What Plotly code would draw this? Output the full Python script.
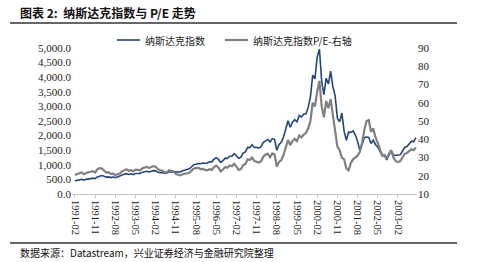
import plotly.graph_objects as go

# Monthly categories 1991-02 .. 2003-10
months = []
y, m = 1991, 2
while (y, m) <= (2003, 10):
    months.append(f"{y}-{m:02d}")
    m += 1
    if m > 12:
        y, m = y + 1, 1

nasdaq = [
    453, 482, 484, 506, 476, 502, 525, 527, 542, 523, 586,
    620, 633, 604, 579, 585, 563, 581, 563, 583, 605, 653, 677,
    696, 671, 690, 662, 704, 704, 705, 742, 763, 779, 754, 777,
    800, 793, 743, 733, 735, 706, 722, 766, 764, 777, 750, 752,
    755, 794, 817, 843, 865, 933, 1001, 1020, 1044, 1036, 1059, 1052,
    1060, 1100, 1101, 1191, 1243, 1185, 1081, 1141, 1227, 1222, 1293, 1291,
    1380, 1309, 1222, 1261, 1400, 1443, 1594, 1587, 1686, 1594, 1601, 1570,
    1619, 1771, 1835, 1869, 1779, 1895, 1873, 1499, 1694, 1771, 1950, 2193,
    2506, 2288, 2461, 2543, 2471, 2686, 2638, 2739, 2746, 2966, 3336, 4069,
    3940, 4697, 4960, 3861, 3401, 3966, 3767, 4206, 3673, 3370, 2598, 2471,
    2773, 2152, 1840, 2116, 2110, 2161, 2027, 1805, 1499, 1690, 1931, 1950,
    1934, 1731, 1845, 1688, 1616, 1463, 1328, 1315, 1172, 1330, 1479, 1336,
    1321, 1338, 1341, 1464, 1596, 1623, 1735, 1810, 1787, 1932,
]

pe = [
    20.5, 21.0, 21.5, 21.8, 20.8, 21.5, 22.0, 22.2, 22.5, 21.8, 23.5,
    24.2, 24.0, 22.8, 21.8, 22.0, 21.0, 21.2, 20.4, 20.8, 21.2, 22.4, 23.0,
    23.5, 22.6, 23.2, 22.4, 23.4, 23.2, 23.0, 24.0, 24.6, 25.0, 24.2, 24.8,
    25.3, 25.0, 23.6, 23.0, 22.8, 21.8, 22.0, 23.0, 22.6, 22.4, 21.0, 20.6,
    20.2, 20.8, 21.0, 21.4, 21.6, 22.8, 24.0, 24.2, 24.4, 23.6, 23.8, 23.2,
    23.0, 23.6, 23.2, 24.8, 25.6, 24.4, 22.4, 23.4, 24.8, 24.4, 25.6, 25.2,
    26.6, 25.0, 23.2, 23.6, 25.8, 26.4, 29.0, 28.6, 30.0, 28.0, 27.8, 27.2,
    28.0, 30.4, 31.6, 32.0, 30.2, 32.2, 31.6, 25.0, 27.6, 28.6, 31.4, 35.0,
    39.6, 36.8, 39.0, 40.2, 39.0, 42.0, 41.0, 42.6, 43.4, 46.0, 50.0, 60.0,
    58.0, 66.0, 72.0, 58.0, 52.0, 61.0, 57.0, 62.0, 53.0, 47.0, 36.0, 34.0,
    30.0, 29.0, 24.0, 23.0, 27.0, 29.0, 30.0, 31.0, 33.0, 38.0, 45.0, 50.0,
    50.5, 44.0, 46.0, 41.0, 38.0, 34.0, 31.0, 31.5, 29.5, 32.0, 34.0, 30.0,
    28.0, 27.5, 28.0, 30.0, 32.0, 32.5, 33.5, 34.5, 34.0, 35.5,
]

tick_labels = months[::9]
left_ticks = list(range(0, 5001, 500))
right_ticks = list(range(10, 91, 10))

title_text = "图表 2:  纳斯达克指数与 P/E 走势"
source_text = "数据来源：Datastream，兴业证券经济与金融研究院整理"
name_idx = "纳斯达克指数"
name_pe = "纳斯达克指数P/E-右轴"

idx = list(range(len(months)))
tickvals = idx[::9]

serif = "Liberation Serif, Times New Roman, serif"
cjk = "Noto Sans CJK SC"
blue = "#24477a"
gray = "#808080"

# pixel -> paper helpers (plot area: x 72..417, y 48..194)
def px(x):
    return (x - 72) / 345

def py(y):
    return (194 - y) / 146

fig = go.Figure()
fig.add_trace(go.Scatter(x=idx, y=nasdaq, name=name_idx, mode="lines",
                         line=dict(color=blue, width=1.6), yaxis="y"))
fig.add_trace(go.Scatter(x=idx, y=pe, name=name_pe, mode="lines",
                         line=dict(color=gray, width=2.2), yaxis="y2"))

legend_shapes = [
    dict(type="line", xref="paper", yref="paper", x0=px(117), x1=px(140),
         y0=py(40), y1=py(40), line=dict(color=blue, width=1.6)),
    dict(type="line", xref="paper", yref="paper", x0=px(225), x1=px(248),
         y0=py(40), y1=py(40), line=dict(color=gray, width=2.2)),
]
legend_ann = [
    dict(text=name_idx, xref="paper", yref="paper", x=px(143), y=py(40),
         xanchor="left", yanchor="middle", showarrow=False,
         font=dict(family=cjk, size=10, color="#222")),
    dict(text=name_pe, xref="paper", yref="paper", x=px(251), y=py(40),
         xanchor="left", yanchor="middle", showarrow=False,
         font=dict(family=cjk, size=10, color="#222")),
]

fig.update_layout(
    width=500, height=262,
    margin=dict(l=72, r=83, t=48, b=68),
    paper_bgcolor="white", plot_bgcolor="white",
    showlegend=False,
    xaxis=dict(range=[-1.3, 152.5], tickmode="array", tickvals=tickvals,
               ticktext=tick_labels, tickangle=90, showgrid=False,
               showline=True, linecolor="#c8c8c8", linewidth=1,
               ticks="outside", ticklen=3, tickcolor="#c8c8c8",
               tickfont=dict(family=serif, size=10.5, color="#222"), zeroline=False),
    yaxis=dict(range=[0, 5000], tickvals=left_ticks,
               ticktext=[f"{v:,.1f}" for v in left_ticks], showgrid=False,
               zeroline=False, showline=False,
               tickfont=dict(family=serif, size=11, color="#222")),
    yaxis2=dict(range=[10, 90], tickvals=right_ticks, overlaying="y", side="right",
                showgrid=False, zeroline=False, showline=False,
                tickfont=dict(family=serif, size=11, color="#222")),
    shapes=[
        dict(type="line", xref="paper", yref="paper", x0=px(10), x1=px(457),
             y0=py(23), y1=py(23), line=dict(color="#333", width=1.5)),
        dict(type="line", xref="paper", yref="paper", x0=px(10), x1=px(457),
             y0=py(243), y1=py(243), line=dict(color="#333", width=1.5)),
    ] + legend_shapes,
    annotations=[
        dict(text="<b>" + title_text + "</b>", xref="paper", yref="paper",
             x=px(18), y=py(13), xanchor="left", yanchor="middle",
             showarrow=False, font=dict(family=cjk, size=12, color="#111")),
        dict(text=source_text, xref="paper", yref="paper",
             x=px(18), y=py(252), xanchor="left", yanchor="middle",
             showarrow=False, font=dict(family=cjk, size=10, color="#111")),
    ] + legend_ann,
)

fig.write_html("out.html")
